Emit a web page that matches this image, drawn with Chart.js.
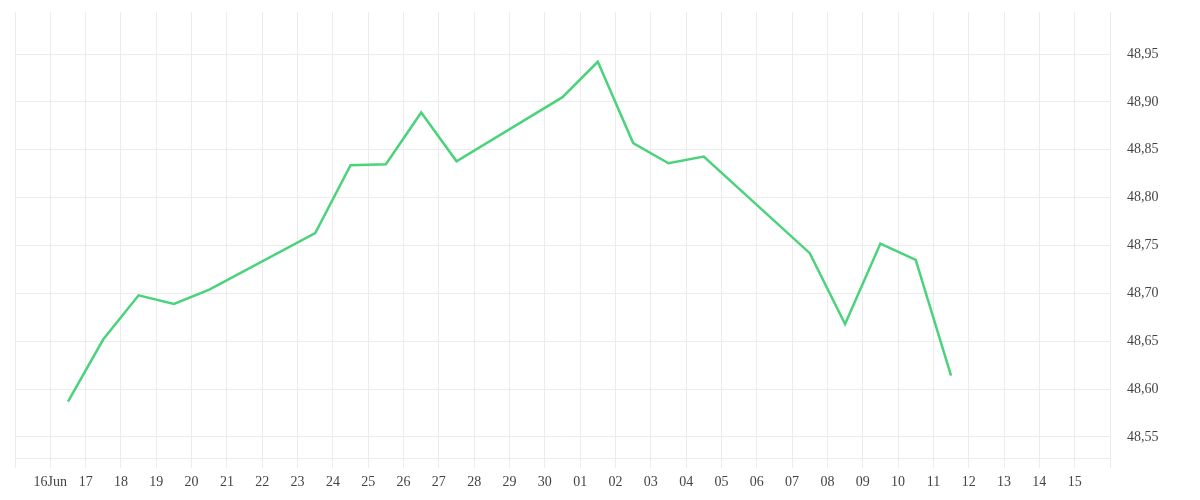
<!DOCTYPE html>
<html lang="en">
<head>
    <meta charset="UTF-8">
    <title>Price chart</title>
    <script src="https://cdn.jsdelivr.net/npm/chart.js"></script>
    <style>
        html, body { margin: 0; padding: 0; background: #fff; }
        #wrap { width: 1200px; height: 500px; }
    </style>
</head>
<body>
    <div id="wrap"><canvas id="priceChart"></canvas></div>
    <script>
        // trading days (weekends skipped)
        var dates = ['2014-06-16', '2014-06-17', '2014-06-18', '2014-06-19', '2014-06-20',
                     '2014-06-23', '2014-06-24', '2014-06-25', '2014-06-26', '2014-06-27',
                     '2014-06-30', '2014-07-01', '2014-07-02', '2014-07-03', '2014-07-04',
                     '2014-07-07', '2014-07-08', '2014-07-09', '2014-07-10', '2014-07-11'];
        var prices = [48.587, 48.652, 48.698, 48.689, 48.704,
                      48.763, 48.834, 48.835, 48.889, 48.838,
                      48.905, 48.942, 48.857, 48.836, 48.843,
                      48.742, 48.668, 48.752, 48.735, 48.614];
        var axisStart = '2014-06-15';
        var axisDays = 31;
        var monthNames = ['Jan', 'Feb', 'Mar', 'Apr', 'May', 'Jun', 'Jul', 'Aug', 'Sep', 'Oct', 'Nov', 'Dec'];

        var DAY = 86400000;
        var t0 = Date.parse(axisStart + 'T00:00:00Z');
        // each point sits at noon of its day
        var points = dates.map(function(d, i) {
            return { x: (Date.parse(d + 'T12:00:00Z') - t0) / DAY, y: prices[i] };
        });

        var labelFont = { family: '"Liberation Serif", serif', size: 14 };
        var gridColor = '#ececec';

        var ctx = document.getElementById('priceChart').getContext('2d');
        var priceChart = new Chart(ctx, {
            type: 'line',
            data: {
                datasets: [{
                    data: points,
                    borderColor: '#4bd37b',
                    borderWidth: 2.5,
                    pointRadius: 0,
                    fill: false,
                    tension: 0
                }]
            },
            options: {
                responsive: true,
                maintainAspectRatio: false,
                animation: false,
                layout: { padding: { left: 15, top: 12, right: 0, bottom: 0 } },
                plugins: { legend: { display: false }, tooltip: { enabled: false } },
                scales: {
                    x: {
                        type: 'linear',
                        min: 0,
                        max: axisDays,
                        grid: { color: gridColor, tickLength: 10 },
                        border: { color: gridColor },
                        ticks: {
                            stepSize: 1,
                            autoSkip: false,
                            maxRotation: 0,
                            padding: 6,
                            color: '#444',
                            font: labelFont,
                            callback: function(v) {
                                if (v <= 0 || v >= axisDays) return '';
                                var d = new Date(t0 + v * DAY);
                                var s = ('0' + d.getUTCDate()).slice(-2);
                                if (v === 1) s += monthNames[d.getUTCMonth()];
                                return s;
                            }
                        },
                        afterFit: function(scale) { scale.height = 42; }
                    },
                    y: {
                        position: 'right',
                        min: 48.528,
                        max: 48.994,
                        grid: { color: gridColor, drawTicks: false },
                        border: { color: gridColor },
                        ticks: {
                            stepSize: 0.05,
                            padding: 17,
                            color: '#444',
                            font: labelFont,
                            callback: function(v) { return v.toFixed(2).replace('.', ','); }
                        },
                        afterBuildTicks: function(scale) {
                            scale.ticks = scale.ticks.filter(function(t) {
                                var k = t.value / 0.05;
                                return Math.abs(k - Math.round(k)) < 1e-6;
                            });
                        },
                        afterFit: function(scale) {
                            scale.width = 90;
                            scale.paddingTop = 0;
                            scale.paddingBottom = 0;
                        }
                    }
                }
            }
        });
    </script>
</body>
</html>
